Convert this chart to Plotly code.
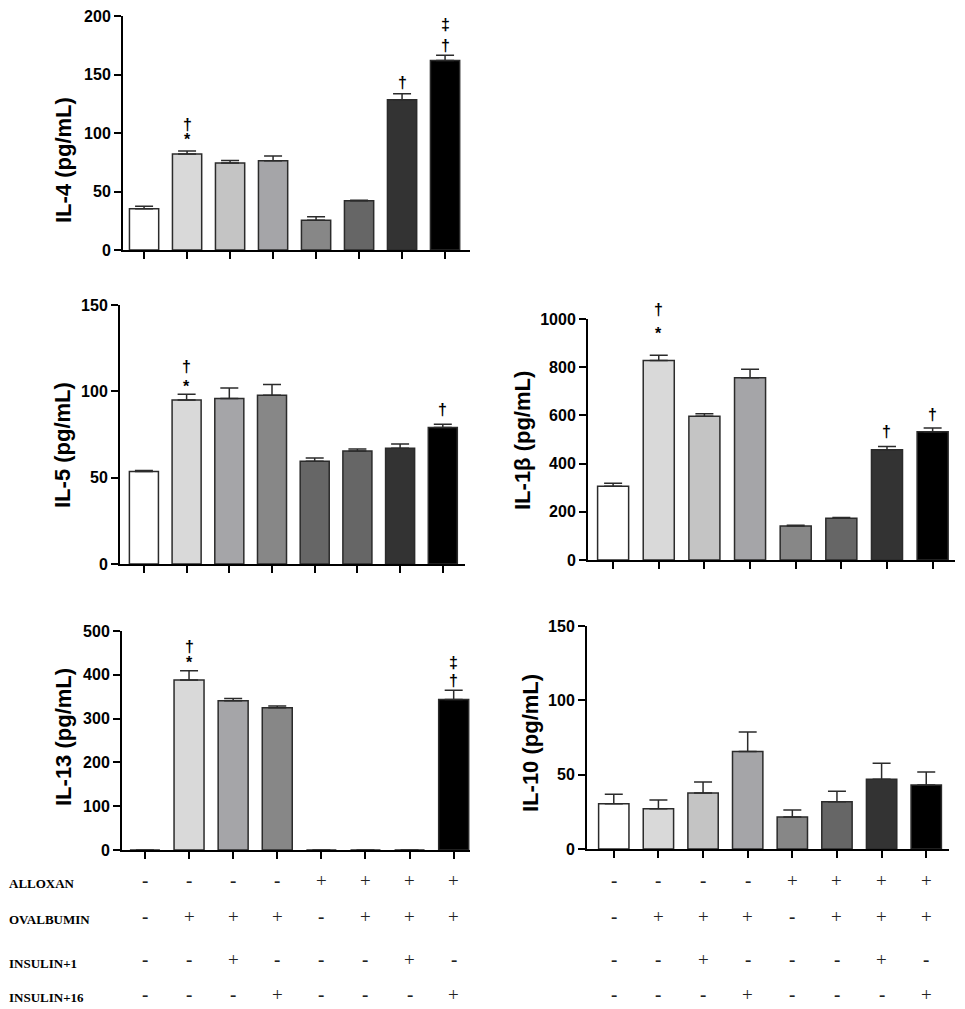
"""
Cytokine levels (IL-4, IL-5, IL-1b, IL-13, IL-10) per treatment group, bar charts with SEM
"""

import plotly.graph_objs as go

GROUPS = [0, 1, 2, 3, 4, 5, 6, 7]

IL4_MEAN = [35.2, 82.1, 74.3, 76.3, 25.4, 42.2, 128.5, 162.0]
IL4_SEM = [2.2, 2.5, 2.2, 4.1, 3.1, 0.3, 5.0, 4.5]

IL5_MEAN = [53.5, 95.0, 95.9, 97.7, 59.5, 65.4, 67.0, 79.0]
IL5_SEM = [0.7, 3.3, 6.0, 6.3, 1.9, 1.2, 2.5, 1.9]

IL1B_MEAN = [306, 828, 596, 756, 141, 173, 457, 532]
IL1B_SEM = [12, 22, 11, 36, 3, 3, 14, 16]

IL13_MEAN = [0, 388, 340.7, 324.7, 0, 0, 0, 343.7]
IL13_SEM = [0, 21, 5.3, 3.8, 0, 0, 0, 21.3]

IL10_MEAN = [30.5, 27.1, 37.7, 65.5, 21.5, 31.8, 46.9, 43.0]
IL10_SEM = [6.3, 5.9, 7.4, 13.2, 4.7, 7.0, 10.7, 8.8]

# treatment table rows
ROW_LABELS = ['ALLOXAN', 'OVALBUMIN', 'INSULIN+1', 'INSULIN+16']
ALLOXAN = ['-', '-', '-', '-', '+', '+', '+', '+']
OVALBUMIN = ['-', '+', '+', '+', '-', '+', '+', '+']
INSULIN_1 = ['-', '-', '+', '-', '-', '-', '+', '-']
INSULIN_16 = ['-', '-', '-', '+', '-', '-', '-', '+']

# significance marks: (bar, symbol, pixels above the error cap)
IL4_MARKS = [(1, '*', 12), (1, '†', 27), (6, '†', 11), (7, '†', 10), (7, '‡', 31)]
IL5_MARKS = [(1, '*', 8), (1, '†', 28), (7, '†', 15)]
IL1B_MARKS = [(1, '*', 22), (1, '†', 46), (6, '†', 15), (7, '†', 13)]
IL13_MARKS = [(1, '*', 8), (1, '†', 24), (7, '†', 10), (7, '‡', 28)]
IL10_MARKS = []

SHADES_A = ['#ffffff', '#d9d9d9', '#c4c4c4', '#a5a5a8', '#878787', '#666666', '#333333', '#000000']
SHADES_B = ['#ffffff', '#d9d9d9', '#a5a5a8', '#878787', '#666666', '#666666', '#333333', '#000000']

W, H = 965, 1009
PAGE_MARGIN = 8  # the html body puts the plot 8px in from the corner
SANS = 'Liberation Sans, Arial, sans-serif'
SERIF = 'Liberation Serif, Times New Roman, serif'


def px_x(v):
    return (v - PAGE_MARGIN) / W


def px_y(v):
    return 1 - (v - PAGE_MARGIN) / H


def _add_panel(fig, n, title, mean, sem, colors, marks, ymax, dtick, box, xrange, title_pos):
    """
    Add one bar panel on its own pair of axes
    :param n: axis number
    :param box: (left, top, right, bottom) of the plot area in pixels
    """
    suffix = '' if n == 1 else str(n)
    fig.add_trace(go.Bar(
        x=GROUPS, y=mean, width=0.68,
        marker=dict(color=colors, line=dict(color='#2b2b2b', width=1.5)),
        error_y=dict(type='data', symmetric=False, array=sem, arrayminus=[0] * len(sem),
                     color='#2b2b2b', thickness=1.5, width=9),
        xaxis='x' + suffix, yaxis='y' + suffix, showlegend=False,
    ))

    left, top, right, bottom = box
    ticks = list(range(0, ymax + 1, dtick))
    axis_line = dict(showline=True, linecolor='black', linewidth=2, showgrid=False,
                     zeroline=False, ticks='outside', tickcolor='black', tickwidth=2,
                     automargin=False)
    fig.layout['xaxis' + suffix] = dict(
        axis_line, domain=[px_x(left), px_x(right)], range=xrange,
        tickvals=GROUPS, showticklabels=False, ticklen=7,
        anchor='y' + suffix)
    fig.layout['yaxis' + suffix] = dict(
        axis_line, domain=[px_y(bottom), px_y(top)], range=[0, ymax],
        tickvals=ticks, ticktext=[f'<b>{t}</b>' for t in ticks], ticklen=7,
        ticklabeloverflow='allow',
        anchor='x' + suffix, tickfont=dict(family=SANS, size=16, color='black'))

    fig.add_annotation(x=px_x(title_pos[0]), y=px_y(title_pos[1]), xref='paper', yref='paper',
                       xanchor='center', yanchor='middle',
                       text=f'<b>{title}</b>', textangle=-90, showarrow=False,
                       font=dict(family=SANS, size=22, color='black'))

    for bar, symbol, offset in marks:
        fig.add_annotation(x=bar, y=mean[bar] + sem[bar], xref='x' + suffix, yref='y' + suffix,
                           text=f'<b>{symbol}</b>', showarrow=False, yanchor='middle',
                           xanchor='center', yshift=offset,
                           font=dict(family=SANS, size=16, color='black'))


def _add_table(fig, xref_names):
    """
    Add the +/- treatment table under the bottom panels
    """
    rows = [ALLOXAN, OVALBUMIN, INSULIN_1, INSULIN_16]
    label_y = [883, 919, 963, 997]
    sign_y = [880, 916, 959, 994]
    for label, row, ly, sy in zip(ROW_LABELS, rows, label_y, sign_y):
        fig.add_annotation(x=px_x(7), y=px_y(ly), xref='paper', yref='paper',
                           xanchor='left', yanchor='middle',
                           text=f'<b>{label}</b>', showarrow=False,
                           font=dict(family=SERIF, size=13, color='black'))
        for xref in xref_names:
            for i, sign in enumerate(row):
                text = f'<b>{sign}</b>' if sign == '-' else sign
                fig.add_annotation(x=GROUPS[i], y=px_y(sy), xref=xref, yref='paper',
                                   xanchor='center', yanchor='middle',
                                   text=text, showarrow=False,
                                   font=dict(family=SERIF, size=19, color='#222222'))


def generate_cytokine_figure():
    fig = go.Figure()

    _add_panel(fig, 1, 'IL-4 (pg/mL)', IL4_MEAN, IL4_SEM, SHADES_A, IL4_MARKS, 200, 50,
               (123, 16, 470, 250), [-0.49, 7.58], (63, 160))
    _add_panel(fig, 2, 'IL-5 (pg/mL)', IL5_MEAN, IL5_SEM, SHADES_B, IL5_MARKS, 150, 50,
               (120, 305, 465, 564), [-0.56, 7.52], (62, 445))
    _add_panel(fig, 3, 'IL-1β (pg/mL)', IL1B_MEAN, IL1B_SEM, SHADES_A, IL1B_MARKS, 1000, 200,
               (588, 319, 955, 560), [-0.55, 7.49], (522, 441))
    _add_panel(fig, 4, 'IL-13 (pg/mL)', IL13_MEAN, IL13_SEM, SHADES_B, IL13_MARKS, 500, 100,
               (122, 631, 470, 850), [-0.52, 7.37], (63, 737))
    _add_panel(fig, 5, 'IL-10 (pg/mL)', IL10_MEAN, IL10_SEM, SHADES_A, IL10_MARKS, 150, 50,
               (587, 626, 949, 849), [-0.6, 7.51], (530, 743))

    _add_table(fig, ['x4', 'x5'])

    fig.update_layout(width=W, height=H, margin=dict(l=0, r=0, t=0, b=0, pad=0),
                      plot_bgcolor='white', paper_bgcolor='white', bargap=0.3)
    return fig


fig = generate_cytokine_figure()
fig.write_html('out.html')
